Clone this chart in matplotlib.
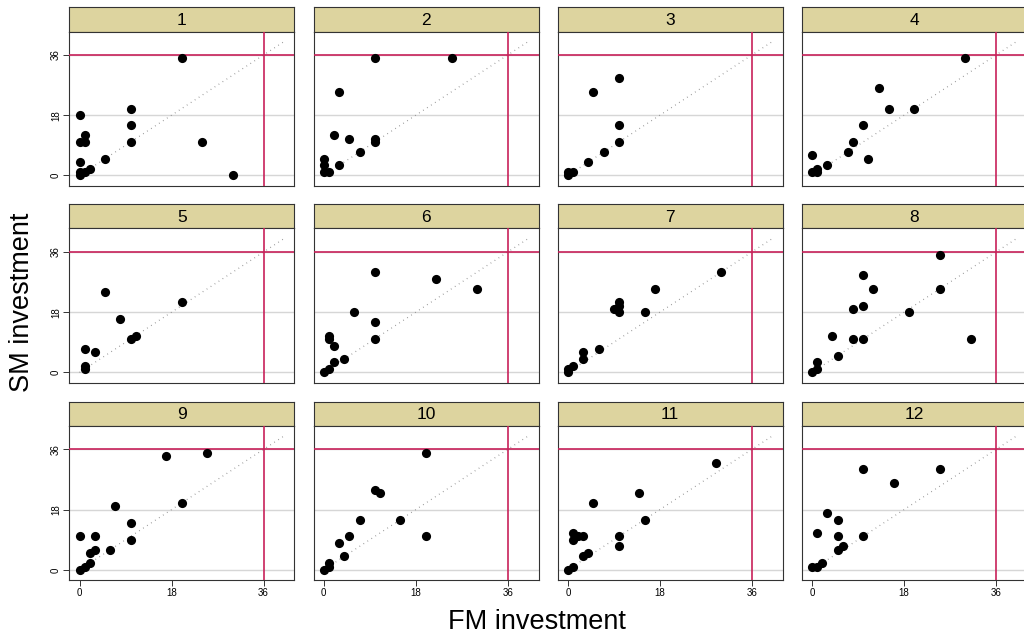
import matplotlib
matplotlib.use('Agg')

import matplotlib.pyplot as plt

plt.rcParams['font.family'] = ['Liberation Sans', 'DejaVu Sans']

# -------------------------
# Data: first-mover (FM) vs second-mover (SM) investment, per round
# -------------------------
rounds = ['1', '2', '3', '4', '5', '6', '7', '8', '9', '10', '11', '12']

fm_invest = [
    [20, 0, 10, 10, 10, 1, 0, 1, 24, 0, 5, 2, 0, 1, 0, 30],
    [10, 25, 3, 2, 5, 10, 10, 7, 3, 0, 0, 0, 1],
    [10, 5, 10, 10, 7, 4, 0, 1, 0],
    [30, 13, 15, 20, 10, 8, 7, 11, 0, 3, 1, 0, 1],
    [5, 20, 8, 11, 10, 1, 3, 1, 1],
    [10, 22, 30, 6, 10, 10, 1, 1, 2, 4, 2, 1, 0],
    [30, 17, 10, 10, 9, 10, 15, 6, 3, 3, 1, 0, 0],
    [25, 10, 12, 25, 8, 10, 19, 4, 8, 10, 31, 5, 1, 1, 0],
    [25, 17, 20, 7, 10, 10, 0, 3, 6, 3, 2, 2, 1, 0],
    [20, 10, 11, 7, 15, 5, 20, 3, 4, 1, 1, 0],
    [29, 14, 5, 15, 1, 1, 2, 3, 10, 10, 4, 3, 1, 0],
    [10, 25, 16, 3, 5, 1, 5, 10, 6, 5, 2, 1, 0],
]

sm_invest = [
    [35, 18, 20, 15, 10, 12, 10, 10, 10, 4, 5, 2, 1, 1, 0, 0],
    [35, 35, 25, 12, 11, 11, 10, 7, 3, 5, 3, 1, 1],
    [29, 25, 15, 10, 7, 4, 0, 1, 1],
    [35, 26, 20, 20, 15, 10, 7, 5, 6, 3, 2, 1, 1],
    [24, 21, 16, 11, 10, 7, 6, 2, 1],
    [30, 28, 25, 18, 15, 10, 11, 10, 8, 4, 3, 1, 0],
    [30, 25, 21, 20, 19, 18, 18, 7, 6, 4, 2, 1, 0],
    [35, 29, 25, 25, 19, 20, 18, 11, 10, 10, 10, 5, 3, 1, 0],
    [35, 34, 20, 19, 14, 9, 10, 10, 6, 6, 5, 2, 1, 0],
    [35, 24, 23, 15, 15, 10, 10, 8, 4, 2, 1, 0],
    [32, 23, 20, 15, 11, 9, 10, 10, 10, 7, 5, 4, 1, 0],
    [30, 30, 26, 17, 15, 11, 10, 10, 7, 6, 2, 1, 1],
]

ticks = [0, 18, 36]
ref_level = 36

# -------------------------
# Layout (pixel boxes on a 1024x639 canvas)
# -------------------------
W, H = 1024, 639
fig = plt.figure(figsize=(W / 100, H / 100), dpi=100)

col_left = [69.3, 313.5, 557.6, 801.8]
panel_w = 225.0
row_strip_top = [7.3, 204.3, 401.7]
strip_h = 24.2
panel_h = 154.0

strip_col = '#ddd49f'
red = '#c8215a'
grid_col = '#d6d6d6'


def box(x0, y0, w, h):
    # pixel box (top-left origin) -> figure fraction
    return [x0 / W, 1 - (y0 + h) / H, w / W, h / H]


for k, lab in enumerate(rounds):
    r, c = divmod(k, 4)
    x0 = col_left[c]
    st = row_strip_top[r]

    # strip header
    sax = fig.add_axes(box(x0, st, panel_w, strip_h))
    sax.set_facecolor(strip_col)
    sax.set_xticks([])
    sax.set_yticks([])
    sax.text(0.5, 0.47, lab, ha='center', va='center', fontsize=12.5,
             transform=sax.transAxes)
    for s in sax.spines.values():
        s.set_linewidth(0.8)
        s.set_color('#333333')

    # scatter panel
    ax = fig.add_axes(box(x0, st + strip_h, panel_w, panel_h))
    ax.set_xlim(-2, 42)
    ax.set_ylim(-3, 43)

    for t in ticks:
        ax.axhline(t, color=grid_col, lw=1.0, zorder=1)
    ax.plot([0, 40], [0, 40], color='#8a8a8a', lw=0.9,
            linestyle=(0, (0.6, 3.2)), zorder=2)
    ax.axhline(ref_level, color=red, lw=1.2, zorder=3)
    ax.axvline(ref_level, color=red, lw=1.2, zorder=3)

    ax.plot(fm_invest[k], sm_invest[k], 'o', color='black',
            markersize=6.6, markeredgewidth=0, zorder=4, clip_on=True)

    for s in ax.spines.values():
        s.set_linewidth(0.8)
        s.set_color('#333333')

    ax.set_xticks(ticks)
    ax.set_yticks(ticks)
    ax.tick_params(direction='out', length=4, width=0.7, labelsize=7,
                   pad=2, color='#333333')
    if c == 0:
        ax.set_yticklabels([str(t) for t in ticks], rotation=90, va='center')
    else:
        ax.tick_params(axis='y', left=False, labelleft=False)
    if r == 2:
        ax.set_xticklabels([str(t) for t in ticks])
    else:
        ax.tick_params(axis='x', bottom=False, labelbottom=False)

fig.text(537 / W, 1 - 622 / H, 'FM investment', ha='center', va='center',
         fontsize=19.5)
fig.text(22 / W, 1 - 302 / H, 'SM investment', ha='center', va='center',
         rotation=90, fontsize=19.5)

fig.savefig('out.png', dpi=100)
plt.close(fig)
